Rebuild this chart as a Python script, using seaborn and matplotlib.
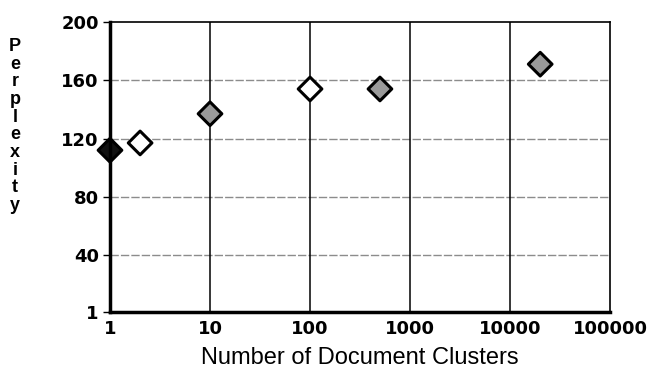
import seaborn as sns
import matplotlib.pyplot as plt
import pandas as pd

# values
clusters = [1, 2, 10, 100, 500, 20000]
perplexity = [112, 117, 137, 154, 154, 171]
fill = ["black", "white", "gray", "white", "gray", "gray"]

x_ticks = [1, 10, 100, 1000, 10000, 100000]
x_labels = ["1", "10", "100", "1000", "10000", "100000"]
y_ticks = [1, 40, 80, 120, 160, 200]
y_labels = ["1", "40", "80", "120", "160", "200"]

df = pd.DataFrame({"clusters": clusters, "perplexity": perplexity, "fill": fill})

sns.set_style("white")
plt.rcParams["font.family"] = ["DejaVu Sans"]
plt.rcParams["text.color"] = "black"
plt.rcParams["xtick.color"] = "black"
plt.rcParams["ytick.color"] = "black"
plt.rcParams["axes.labelcolor"] = "black"

fig = plt.figure(figsize=(6.47, 3.77), dpi=100)
ax = fig.add_axes([0.170, 0.172, 0.773, 0.770])

# grid first so markers sit on top
for v in y_ticks[1:-1]:
    ax.axhline(v, color="#8c8c8c", lw=1.0, ls=(0, (6, 1.5)), zorder=1)
for v in x_ticks[1:-1]:
    ax.axvline(v, color="black", lw=1.1, zorder=1)

sns.scatterplot(data=df, x="clusters", y="perplexity", hue="fill",
                palette={"black": "#111111", "white": "white", "gray": "#9a9a9a"},
                marker="D", s=145, edgecolor="black", linewidth=2.2,
                legend=False, ax=ax, zorder=3, clip_on=False)

ax.set_xscale("log")
ax.set_xlim(1, 100000)
ax.set_ylim(1, 200)
ax.set_xticks(x_ticks)
ax.set_xticklabels(x_labels)
ax.minorticks_off()
ax.set_yticks(y_ticks)
ax.set_yticklabels(y_labels)
ax.tick_params(axis="both", labelsize=13)
ax.tick_params(axis="x", length=0, pad=6)
ax.tick_params(axis="y", length=5, width=1, direction="out", pad=3, left=True)
for lab in ax.get_xticklabels() + ax.get_yticklabels():
    lab.set_fontweight("bold")

for side in ["left", "bottom"]:
    ax.spines[side].set_linewidth(2.5)
for side in ["top", "right"]:
    ax.spines[side].set_linewidth(1.2)
for sp in ax.spines.values():
    sp.set_color("black")
    sp.set_zorder(4)

ax.set_xlabel("Number of Document Clusters", fontsize=17,
              family="Liberation Sans", labelpad=6)
ax.set_ylabel("")

fig.text(15 / 647, 1 - 126 / 377, "\n".join("Perplexity"), ha="center", va="center",
         fontsize=13, fontweight="bold", family="Liberation Sans", linespacing=1.05)

fig.savefig("out.png", dpi=100)
